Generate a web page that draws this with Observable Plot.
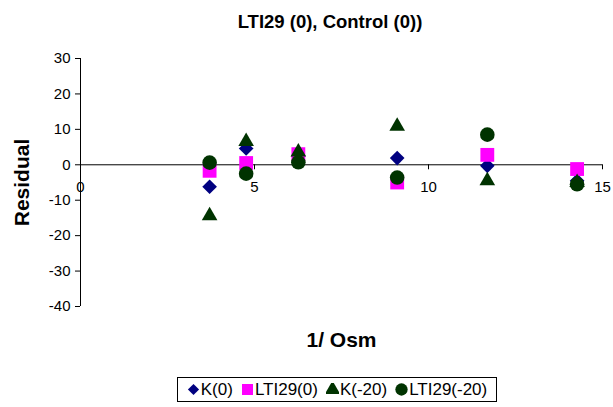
<!DOCTYPE html>
<html>
<head>
<meta charset="utf-8">
<script src="https://cdn.jsdelivr.net/npm/d3@7"></script>
<script src="https://cdn.jsdelivr.net/npm/@observablehq/plot@0.6"></script>
<style>
  body { margin: 0; background: #fff; font-family: Arial, "Liberation Sans", sans-serif; color: #000; }
  #wrap { position: relative; width: 613px; height: 407px; }
  #title { position: absolute; top: 11px; left: 330px; transform: translateX(-50%); white-space: nowrap;
           font-weight: bold; font-size: 18.5px; line-height: 22px; }
  #chart { position: absolute; top: 0; left: 0; }
  #legend { position: absolute; left: 177px; top: 377px; width: 320px; height: 25px; box-sizing: border-box;
            border: 1px solid #000; background: #fff; display: flex; align-items: center; justify-content: center;
            font-size: 17px; white-space: nowrap; }
  #legend .item { display: inline-flex; align-items: center; margin: 0 4px; }
  #legend svg { margin-right: 1px; }
</style>
</head>
<body>
<div id="wrap">
  <div id="chart"></div>
  <div id="title">LTI29 (0), Control (0))</div>
  <div id="legend"></div>
</div>
<script>
// 1/Osm positions shared by every series
const osm = [3.71, 4.76, 6.26, 9.10, 11.69, 14.27];

// Residuals per series
const k0     = [-6.2, 4.6, 2.5, 1.9, -0.3, -4.5];
const lti0   = [-1.7, 0.5, 3.0, -5.0, 2.8, -1.2];
const k20    = [-14.4, 6.6, 3.6, 10.9, -4.5, -5.0];
const lti20  = [0.6, -2.5, 0.7, -3.6, 8.5, -5.5];

const seriesNames = ["K(0)", "LTI29(0)", "K(-20)", "LTI29(-20)"];
const seriesValues = [k0, lti0, k20, lti20];
const seriesSymbols = ["diamond2", "square", "triangle", "circle"];
const seriesColors = ["#000080", "#FF00FF", "#003300", "#003300"];
const seriesRadius = [6.6, 7.8, 5.8, 7.3];

const xTicks = [0, 5, 10, 15];
const yTicks = [-40, -30, -20, -10, 0, 10, 20, 30];

const font = "Arial, 'Liberation Sans', sans-serif";

const dotMarks = seriesNames.map((name, s) =>
  Plot.dot(osm.map((x, i) => ({x, y: seriesValues[s][i], series: name})), {
    x: "x", y: "y",
    symbol: () => seriesSymbols[s],
    fill: seriesColors[s],
    stroke: null,
    r: seriesRadius[s]
  })
);

const chart = Plot.plot({
  width: 613,
  height: 360,
  marginTop: 58,
  marginBottom: 54,
  marginLeft: 80,
  marginRight: 11,
  style: {fontFamily: font, fontSize: "15px", color: "#000", background: "transparent"},
  x: {domain: [0, 15], axis: null},
  y: {domain: [-40, 30]},
  symbol: {type: "identity"},
  marks: [
    Plot.axisY(yTicks, {tickSize: 5, tickPadding: 5, fontSize: 15, label: null, stroke: "#000",
                        tickFormat: d => String(d)}),
    Plot.ruleX([0], {stroke: "#000"}),
    Plot.ruleY([0], {stroke: "#000"}),
    Plot.ruleX(xTicks, {x: d => d, y1: () => 0, y2: () => 0, insetBottom: -5, stroke: "#000"}),
    Plot.text(xTicks, {x: d => d, y: () => 0, text: d => String(d), dy: 22, fontSize: 15, fill: "#000"}),
    ...dotMarks,
    Plot.text(["Residual"], {frameAnchor: "left", textAnchor: "middle", lineAnchor: "middle", dx: -58, rotate: -90, fontSize: 21, fontWeight: "bold", fill: "#000"}),
    Plot.text(["1/ Osm"], {frameAnchor: "bottom", textAnchor: "middle", lineAnchor: "middle", dy: 34, fontSize: 21, fontWeight: "bold", fill: "#000"})
  ]
});
document.getElementById("chart").appendChild(chart);

// Legend built from the same series definitions
const legend = d3.select("#legend");
seriesNames.forEach((name, s) => {
  const item = legend.append("span").attr("class", "item");
  const svg = item.append("svg").attr("width", 13).attr("height", 13);
  const type = {diamond2: d3.symbolDiamond2, square: d3.symbolSquare, triangle: d3.symbolTriangle, circle: d3.symbolCircle}[seriesSymbols[s]];
  const size = {diamond2: 80, square: 121, triangle: 100, circle: 120}[seriesSymbols[s]];
  svg.append("path")
    .attr("transform", "translate(6.5,6.5)")
    .attr("d", d3.symbol(type, size)())
    .attr("fill", seriesColors[s]);
  item.append("span").text(name);
});
</script>
</body>
</html>
